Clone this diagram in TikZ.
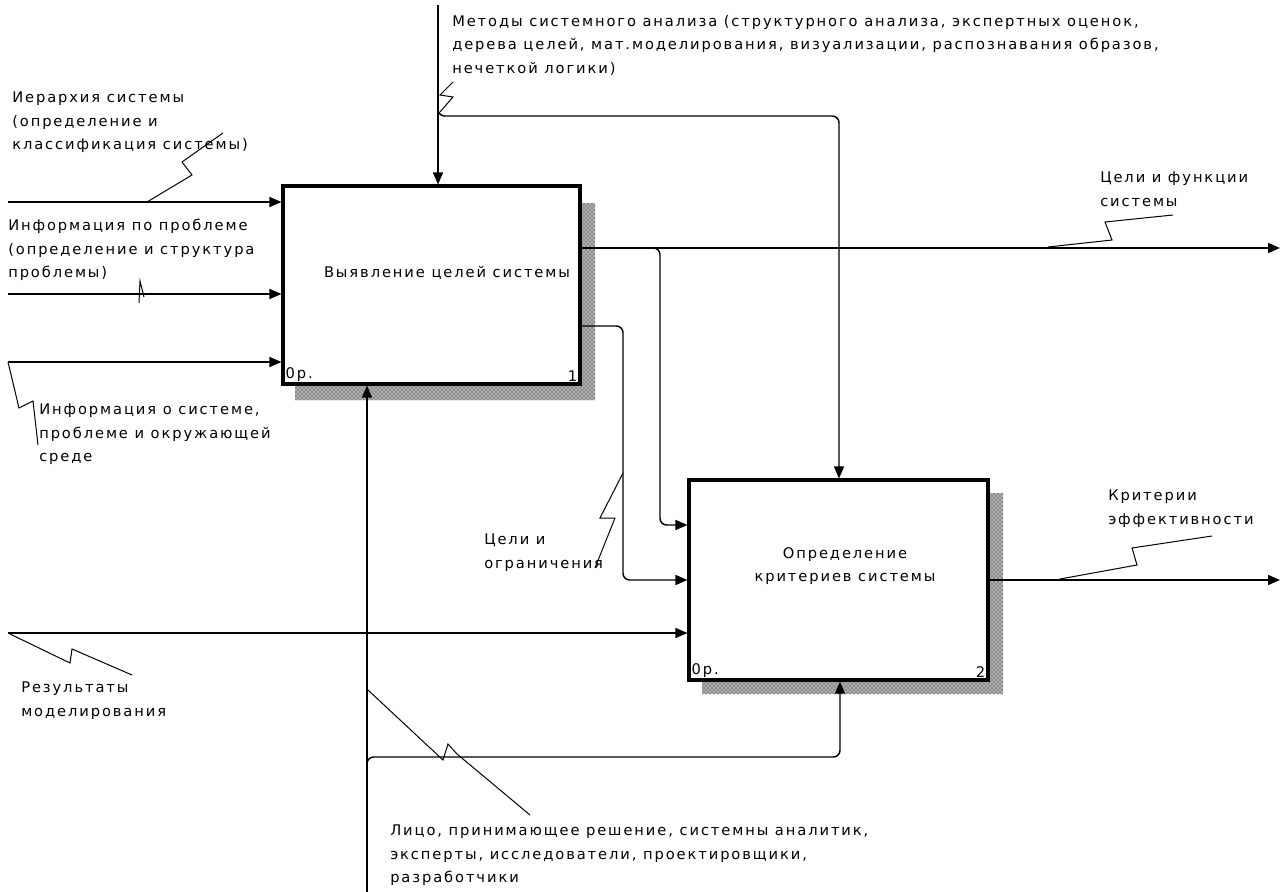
\documentclass[tikz,border=0pt]{standalone}
\usepackage{fontspec}
\setmainfont{DejaVu Sans}[LetterSpace=13]
\usetikzlibrary{positioning}
\usetikzlibrary{arrows.meta,patterns}

\tikzset{
  box/.style={draw, line width=2.3pt, fill=white, inner sep=0pt},
  arr/.style={line width=1.1pt, -{Triangle[length=9pt,width=7.5pt]}},
  squig/.style={line width=0.75pt},
  shade/.style={preaction={fill=black!30}, pattern=crosshatch dots, pattern color=black},
  lbl/.style={anchor=north west, align=left, inner sep=0pt, font=\fontsize{11}{17.6}\selectfont},
  corner/.style={inner sep=3pt, font=\fontsize{11}{12}\selectfont}
}

\begin{document}
\begin{tikzpicture}[x=0.75pt, y=-0.75pt]
            \useasboundingbox (0,0) rectangle (1282,892);
            % Sombras
            \fill[shade] (580,203) -- (595,203) -- (595,400) -- (295,400) -- (295,384) -- (580,384) -- cycle;
            \fill[shade] (988,493) -- (1003,493) -- (1003,694) -- (702,694) -- (702,680) -- (988,680) -- cycle;

            % Bloques
            \node[box, minimum width=222.75pt, minimum height=148.5pt] (b1) at (431.5,285) {};
            \node[box, minimum width=224.25pt, minimum height=150pt] (b2) at (838.5,580) {};
            \node[lbl, anchor=center] (b1txt) at (447,273) {Выявление целей системы};
            \node[lbl, anchor=center, align=center] (b2txt) at (845,566) {Определение\\критериев системы};
            \node[corner, anchor=south west] (b1op) at (b1.south west) {0р.};
            \node[corner, anchor=south east] (b1num) at (b1.south east) {1};
            \node[corner, anchor=south west] (b2op) at (b2.south west) {0р.};
            \node[corner, anchor=south east] (b2num) at (b2.south east) {2};

            % Etiquetas
            \node[lbl] (lHier) at (12,92) {Иерархия системы\\(определение и\\классификация системы)};
            \node[lbl] (lInfo) at (8,219) {Информация по проблеме\\(определение и структура\\проблемы)};
            \node[lbl] (lEnv) at (39,404) {Информация о системе,\\проблеме и окружающей\\среде};
            \node[lbl] (lMeth) at (452,15) {Методы системного анализа (структурного анализа, экспертных оценок,\\дерева целей, мат.моделирования, визуализации, распознавания образов,\\нечеткой логики)};
            \node[lbl] (lGoals) at (1100,172) {Цели и функции\\системы};
            \node[lbl] (lCrit) at (1108,490) {Критерии\\эффективности};
            \node[lbl] (lLim) at (484,534) {Цели и\\ограничения};
            \node[lbl] (lRes) at (21,682) {Результаты\\моделирования};
            \node[lbl] (lMech) at (390,825) {Лицо, принимающее решение, системны аналитик,\\эксперты, исследователи, проектировщики,\\разработчики};

            % Puntos libres
            \coordinate (in1) at (8,202);
            \coordinate (in2) at (8,294);
            \coordinate (in3) at (8,362);
            \coordinate (res) at (8,633);
            \coordinate (ctl) at (438,5);
            \coordinate (cj) at (438,104);
            \coordinate (ck) at (839,116);
            \coordinate (mech) at (367,892);
            \coordinate (mj) at (367,772);
            \coordinate (mk) at (840,757);
            \coordinate (out1) at (1280,248);
            \coordinate (oj1) at (660,525);
            \coordinate (o2) at (623,326);
            \coordinate (oj2) at (623,580);
            \coordinate (crit) at (1280,580);

            % Flechas
            \draw[arr] (in1) -- (in1 -| b1.west);
            \draw[arr] (in2) -- (in2 -| b1.west);
            \draw[arr] (in3) -- (in3 -| b1.west);
            \draw[arr] (ctl) -- (ctl |- b1.north);
            \draw[arr, rounded corners=5pt] (cj) |- (ck) -- (ck |- b2.north);
            \draw[arr] (mech) -- (mech |- b1.south);
            \draw[arr, rounded corners=5pt] (mj) |- (mk) -- (mk |- b2.south);
            \draw[arr] (out1 -| b1.east) -- (out1);
            \draw[arr, rounded corners=5pt] (out1 -| b1.east) -| (oj1) -- (oj1 -| b2.west);
            \draw[arr, rounded corners=5pt] (o2 -| b1.east) -- (o2) -- (oj2) -- (oj2 -| b2.west);
            \draw[arr] (res) -- (res -| b2.west);
            \draw[arr] (crit -| b2.east) -- (crit);

            % Rayos
            \draw[squig] (147,202) -- (192,175) -- (182,162) -- (223,133);
            \draw[squig] (139,303) -- (140,281) -- (144,297);
            \draw[squig] (8,362) -- (19,408) -- (33,401) -- (38,445);
            \draw[squig] (453,82) -- (440,95) -- (453,97) -- (440,112);
            \draw[squig] (1048,247) -- (1112,240) -- (1105,222) -- (1173,215);
            \draw[squig] (1060,579) -- (1137,565) -- (1132,548) -- (1212,536);
            \draw[squig] (595,568) -- (615,518) -- (600,518) -- (623,473);
            \draw[squig] (10,634) -- (70,663) -- (72,649) -- (132,675);
            \draw[squig] (368,690) -- (443,760) -- (448,744) -- (457,754) -- (530,815);
\end{tikzpicture}
\end{document}
